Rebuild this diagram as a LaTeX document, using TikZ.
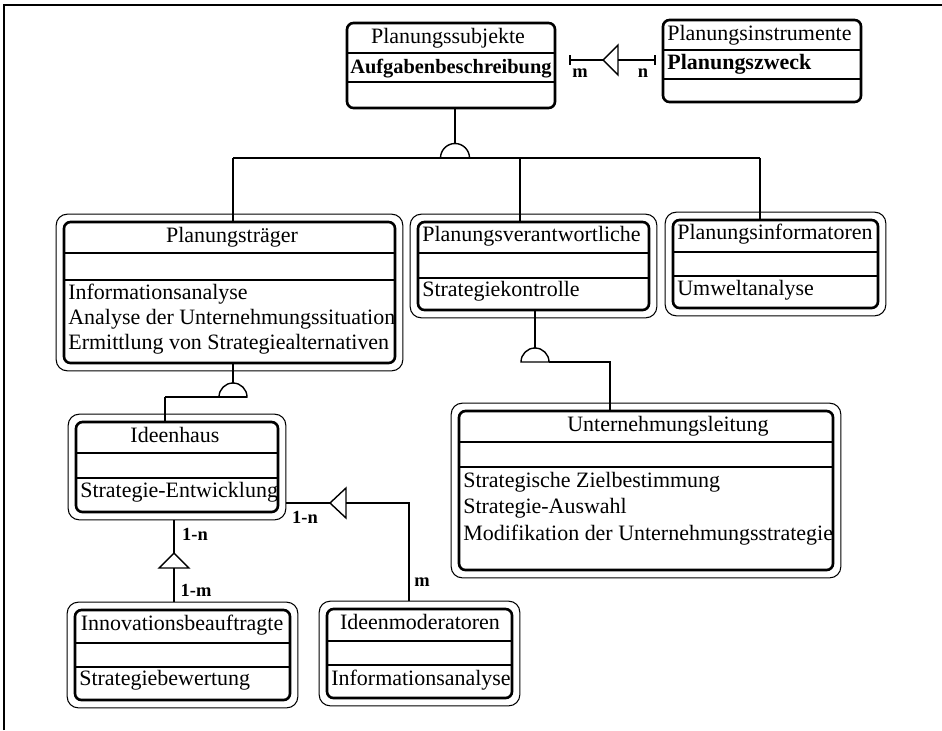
\documentclass[tikz,border=0pt]{standalone}
\usepackage{fontspec}
\setmainfont{Liberation Serif}
\usetikzlibrary{fit,calc}

\tikzset{
  innen/.style={draw,line width=1.5pt,rounded corners=0.13cm,inner sep=0pt},
  aussen/.style={draw,line width=0.6pt,rounded corners=0.22cm,inner sep=0.13cm},
  zeile/.style={line width=0.8pt},
  verb/.style={line width=0.8pt},
  txt/.style={inner sep=0pt,text height=8.7pt,text depth=2.6pt},
  card/.style={inner sep=0pt,font=\fontsize{10.5}{12}\selectfont\bfseries}
}

\begin{document}
\begin{tikzpicture}[x=0.02cm,y=-0.02cm,every node/.style={font=\fontsize{12.5}{14}\selectfont}]
\useasboundingbox (0,0) rectangle (942,730);
\draw[line width=1pt] (4,730) -- (4,5) -- (942,5);

% classes
\node[innen,fit={(347,23) (555,108)}] (ps) {};
\draw[zeile] (347,53) -- (555,53) (347,82) -- (555,82);
\node[innen,fit={(663,20) (861,102)}] (pi) {};
\draw[zeile] (663,50) -- (861,50) (663,79) -- (861,79);
\node[innen,fit={(64,222) (395,363)}] (pt) {};
\node[aussen,fit=(pt)] (ptR) {};
\draw[zeile] (64,253) -- (395,253) (64,280) -- (395,280);
\node[innen,fit={(418,222) (649,310)}] (pv) {};
\node[aussen,fit=(pv)] (pvR) {};
\draw[zeile] (418,253) -- (649,253) (418,278) -- (649,278);
\node[innen,fit={(673,220) (878,308)}] (pf) {};
\node[aussen,fit=(pf)] (pfR) {};
\draw[zeile] (673,252) -- (878,252) (673,276) -- (878,276);
\node[innen,fit={(459,411) (833,570)}] (ul) {};
\node[aussen,fit=(ul)] (ulR) {};
\draw[zeile] (459,442) -- (833,442) (459,467) -- (833,467);
\node[innen,fit={(76,422) (278,512)}] (ih) {};
\node[aussen,fit=(ih)] (ihR) {};
\draw[zeile] (76,453) -- (278,453) (76,478) -- (278,478);
\node[innen,fit={(75,610) (290,700)}] (ib) {};
\node[aussen,fit=(ib)] (ibR) {};
\draw[zeile] (75,643) -- (290,643) (75,667) -- (290,667);
\node[innen,fit={(327,609) (512,698)}] (im) {};
\node[aussen,fit=(im)] (imR) {};
\draw[zeile] (327,641) -- (512,641) (327,665) -- (512,665);

% texts
\node[txt] (ps1) at (448,38) {Planungssubjekte};
\node[txt,font=\fontsize{11.6}{13}\selectfont\bfseries] (ps2) at (451,68) {Aufgabenbeschreibung};
\node[txt,anchor=west] (pi1) at (667,35) {Planungsinstrumente};
\node[txt,anchor=west,font=\fontsize{12.5}{14}\selectfont\bfseries] (pi2) at (667,64) {Planungszweck};
\node[txt] (pt1) at (232,237) {Planungsträger};
\node[txt,anchor=west] (pt2) at (68,294) {Informationsanalyse};
\node[txt,anchor=west] (pt3) at (68,319) {Analyse der Unternehmungssituation};
\node[txt,anchor=west] (pt4) at (68,344) {Ermittlung von Strategiealternativen};
\node[txt,anchor=west] (pv1) at (422,236) {Planungsverantwortliche};
\node[txt,anchor=west] (pv2) at (422,291) {Strategiekontrolle};
\node[txt,anchor=west] (pf1) at (677,234) {Planungsinformatoren};
\node[txt,anchor=west] (pf2) at (677,290) {Umweltanalyse};
\node[txt] (ul1) at (668,426) {Unternehmungsleitung};
\node[txt,anchor=west] (ul2) at (463,482) {Strategische Zielbestimmung};
\node[txt,anchor=west] (ul3) at (463,508) {Strategie-Auswahl};
\node[txt,anchor=west] (ul4) at (463,535) {Modifikation der Unternehmungsstrategie};
\node[txt] (ih1) at (175,437) {Ideenhaus};
\node[txt,anchor=west] (ih2) at (80,492) {Strategie-Entwicklung};
\node[txt] (ib1) at (182,625) {Innovationsbeauftragte};
\node[txt,anchor=west] (ib2) at (79,680) {Strategiebewertung};
\node[txt] (im1) at (420,624) {Ideenmoderatoren};
\node[txt,anchor=west] (im2) at (331,680) {Informationsanalyse};

% ps -- pi
\coordinate (mL) at (570,60);
\coordinate (dA) at (603,60);
\coordinate (dB) at (618,60);
\coordinate (mR) at (655,60);
\draw[verb] (mL) -- (dA) (dB) -- (mR);
\draw[verb] (dA) -- (618,45) -- (618,75) -- cycle;
\draw[verb] (570,55) -- (570,65) (655,55) -- (655,65);
\node[card] (lm1) at (580,73) {m};
\node[card] (ln1) at (643,73) {n};

% ps -> pt, pv, pf
\coordinate (g1) at (455,158);
\draw[verb] (g1 |- ps.south) -- (455,143);
\draw[verb] (440.5,158) arc[start angle=180,end angle=0,radius=0.29cm] -- cycle;
\coordinate (h1) at (233,158);
\coordinate (h2) at (520,158);
\coordinate (h3) at (760,158);
\draw[verb] (h1) -- (h3) (h1) -- (h1 |- pt.north) (h2) -- (h2 |- pv.north) (h3) -- (h3 |- pf.north);

% pt -> ih
\coordinate (g2) at (233,397);
\coordinate (h4) at (165,397);
\draw[verb] (g2 |- pt.south) -- (233,383);
\draw[verb] (219,397) arc[start angle=180,end angle=0,radius=0.28cm] -- cycle;
\draw[verb] (h4) -- (247,397) (h4) -- (h4 |- ih.north);

% pv -> ul
\coordinate (g3) at (535,362);
\coordinate (h5) at (610,362);
\draw[verb] (g3 |- pv.south) -- (535,348);
\draw[verb] (521,362) arc[start angle=180,end angle=0,radius=0.28cm] -- cycle;
\draw[verb] (549,362) -- (h5) -- (h5 |- ul.north);

% ih -- ib
\coordinate (t1) at (174,553);
\draw[verb] (t1 |- ihR.south) -- (t1);
\draw[verb] (t1) -- (159,568) -- (189,568) -- cycle;
\draw[verb] (174,568) -- (t1 |- ibR.north);
\node[card] (l1n) at (195,534) {1-n};
\node[card] (l1m) at (196,590) {1-m};

% ih -- im
\coordinate (t2) at (330,503);
\coordinate (h6) at (409,503);
\draw[verb] (ihR.east |- t2) -- (t2);
\draw[verb] (t2) -- (346,488) -- (346,518) -- cycle;
\draw[verb] (346,503) -- (h6) -- (h6 |- imR.north);
\node[card] (l2n) at (305,517) {1-n};
\node[card] (lm2) at (422,582) {m};
\end{tikzpicture}
\end{document}
